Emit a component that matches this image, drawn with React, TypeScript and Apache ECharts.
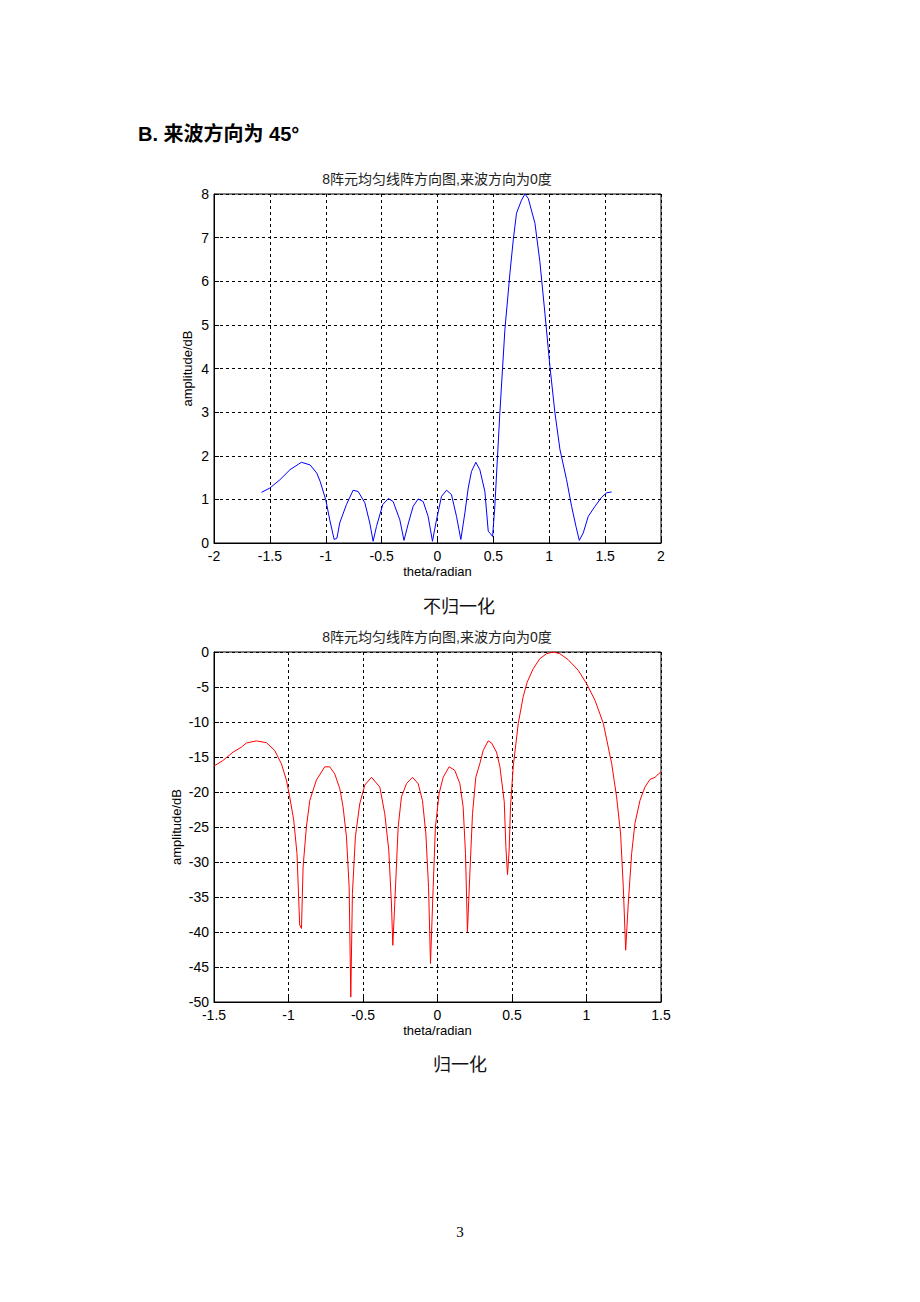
import React, { useEffect, useRef } from "react";
import * as echarts from "echarts";

// Top chart (不归一化): theta (rad) vs amplitude
const topTheta = [
  -1.576, -1.5, -1.41, -1.32, -1.218, -1.14, -1.08, -1.05, -1.0, -0.964, -0.925, -0.9, -0.875, -0.815, -0.755,
  -0.71, -0.65, -0.606, -0.576, -0.546, -0.49, -0.44, -0.397, -0.337, -0.3, -0.26, -0.218, -0.173, -0.128,
  -0.084, -0.045, -0.009, 0.036, 0.081, 0.125, 0.17, 0.209, 0.245, 0.275, 0.304, 0.343, 0.379, 0.424, 0.454,
  0.475, 0.493, 0.513, 0.558, 0.603, 0.648, 0.678, 0.707, 0.752, 0.782, 0.812, 0.872, 0.916, 0.961, 1.006,
  1.051, 1.096, 1.155, 1.2, 1.239, 1.269, 1.304, 1.349, 1.409, 1.469, 1.513, 1.558,
];
const topAmp = [
  1.16, 1.26, 1.45, 1.68, 1.85, 1.79, 1.6, 1.41, 0.99, 0.53, 0.08, 0.11, 0.46, 0.88, 1.21,
  1.18, 0.92, 0.46, 0.04, 0.38, 0.88, 1.02, 0.95, 0.53, 0.06, 0.46, 0.84, 1.01, 0.95,
  0.61, 0.04, 0.53, 1.07, 1.21, 1.11, 0.61, 0.08, 0.69, 1.26, 1.64, 1.85, 1.68, 1.18, 0.27,
  0.21, 0.15, 0.84, 2.98, 4.89, 6.18, 6.95, 7.56, 7.86, 8.0, 7.9, 7.33, 6.45, 5.27, 4.05,
  2.98, 2.14, 1.45, 0.84, 0.38, 0.06, 0.23, 0.61, 0.84, 1.05, 1.15, 1.17,
];

// Bottom chart (归一化): theta (rad) vs normalized amplitude (dB)
const botTheta = [
  -1.5, -1.44, -1.372, -1.316, -1.283, -1.216, -1.149, -1.093, -1.048, -1.014, -0.992, -0.965, -0.943, -0.925,
  -0.913, -0.902, -0.88, -0.857, -0.813, -0.757, -0.723, -0.69, -0.656, -0.634, -0.611, -0.593, -0.582, -0.571,
  -0.551, -0.522, -0.488, -0.443, -0.387, -0.354, -0.327, -0.309, -0.3, -0.287, -0.264, -0.242, -0.208, -0.168,
  -0.13, -0.101, -0.078, -0.06, -0.047, -0.029, -0.014, 0.011, 0.038, 0.078, 0.116, 0.15, 0.172, 0.188, 0.201,
  0.217, 0.235, 0.257, 0.284, 0.307, 0.34, 0.363, 0.396, 0.419, 0.448, 0.459, 0.47, 0.481, 0.49, 0.508, 0.542,
  0.575, 0.602, 0.642, 0.687, 0.732, 0.777, 0.821, 0.877, 0.944, 1.0, 1.057, 1.113, 1.169, 1.202, 1.229, 1.247,
  1.263, 1.28, 1.303, 1.325, 1.359, 1.392, 1.426, 1.46, 1.5,
];
const botAmp = [
  -16.3, -15.5, -14.3, -13.6, -13.0, -12.7, -12.95, -14.05, -15.95, -18.3, -20.7, -24.0, -28.8, -39.0,
  -39.5, -30.7, -25.0, -21.2, -18.3, -16.4, -16.4, -17.4, -19.5, -22.1, -26.4, -33.6, -49.3, -34.5,
  -26.4, -21.7, -19.0, -17.9, -19.3, -23.1, -28.3, -36.0, -41.9, -36.0, -25.0, -20.7, -18.8, -17.9,
  -18.8, -21.2, -26.0, -33.6, -44.5, -33.6, -25.0, -20.2, -17.9, -16.4, -16.9, -18.8, -22.1, -28.8, -40.0,
  -31.7, -23.1, -17.9, -15.95, -14.05, -12.7, -13.0, -14.3, -16.4, -21.4, -27.9, -31.8, -28.3, -22.1, -16.4, -10.2,
  -6.4, -4.3, -2.4, -0.95, -0.24, 0, -0.24, -1.1, -2.6, -4.5, -6.9, -10.2, -15.95, -20.7, -26.0, -33.6,
  -42.6, -36.0, -28.8, -24.5, -21.2, -19.3, -18.2, -17.9, -17.1,
];

const chartTitle = "8阵元均匀线阵方向图,来波方向为0度";
const headerText = "B. 来波方向为 45°";
const caption1 = "不归一化";
const caption2 = "归一化";
const pageNo = "3";

const FONT = "Liberation Sans, Arial, Noto Sans CJK SC, sans-serif";

function pairs(xs: number[], ys: number[]) {
  return xs.map((x, i) => [x, ys[i]]);
}

function xAxisCfg(gridIndex: number, min: number, max: number) {
  return {
    type: "value",
    gridIndex,
    min,
    max,
    interval: 0.5,
    name: "theta/radian",
    nameLocation: "middle",
    nameGap: 22,
    nameTextStyle: { color: "#000", fontSize: 13, fontFamily: FONT },
    axisLine: { show: true, onZero: false, lineStyle: { color: "#000", width: 1 } },
    axisTick: { show: true, inside: true, length: 5, lineStyle: { color: "#000" } },
    axisLabel: { color: "#000", fontSize: 14, fontFamily: FONT, margin: 6 },
    splitLine: { show: true, lineStyle: { color: "#000", type: [3, 3], width: 1 } },
  };
}

function yAxisCfg(gridIndex: number, min: number, max: number, interval: number, gap: number) {
  return {
    type: "value",
    gridIndex,
    min,
    max,
    interval,
    name: "amplitude/dB",
    nameLocation: "middle",
    nameGap: gap,
    nameRotate: 90,
    nameTextStyle: { color: "#000", fontSize: 13, fontFamily: FONT },
    axisLine: { show: true, onZero: false, lineStyle: { color: "#000", width: 1 } },
    axisTick: { show: true, inside: true, length: 5, lineStyle: { color: "#000" } },
    axisLabel: { color: "#000", fontSize: 14, fontFamily: FONT, margin: 5 },
    splitLine: { show: true, lineStyle: { color: "#000", type: [3, 3], width: 1 } },
  };
}

export default function App() {
  const ref = useRef<HTMLDivElement>(null);
  useEffect(() => {
    if (!ref.current) return;
    const chart = echarts.init(ref.current, undefined, { renderer: "svg" });
    chart.setOption({
      animation: false,
      backgroundColor: "#fff",
      grid: [
        { left: 214, top: 194, width: 447, height: 349, show: true, borderColor: "#000", borderWidth: 1, backgroundColor: "transparent" },
        { left: 214, top: 652, width: 447, height: 350, show: true, borderColor: "#000", borderWidth: 1, backgroundColor: "transparent" },
      ],
      xAxis: [xAxisCfg(0, -2, 2), xAxisCfg(1, -1.5, 1.5)],
      yAxis: [yAxisCfg(0, 0, 8, 1, 20), yAxisCfg(1, -50, 0, 5, 31)],
      series: [
        {
          type: "line",
          xAxisIndex: 0,
          yAxisIndex: 0,
          data: pairs(topTheta, topAmp),
          showSymbol: false,
          symbol: "none",
          lineStyle: { color: "#0000ff", width: 1 },
          clip: true,
        },
        {
          type: "line",
          xAxisIndex: 1,
          yAxisIndex: 1,
          data: pairs(botTheta, botAmp),
          showSymbol: false,
          symbol: "none",
          lineStyle: { color: "#ff0000", width: 1 },
          clip: true,
        },
      ],
      graphic: [
        {
          type: "text",
          left: 138,
          top: 124,
          style: { text: headerText, fontSize: 20, fontWeight: "bold", fontFamily: FONT, fill: "#000" },
        },
        {
          type: "text",
          x: 437,
          y: 179,
          style: { text: chartTitle, fontSize: 14, fontFamily: FONT, fill: "#222", align: "center", verticalAlign: "middle" },
        },
        {
          type: "text",
          x: 437,
          y: 637,
          style: { text: chartTitle, fontSize: 14, fontFamily: FONT, fill: "#222", align: "center", verticalAlign: "middle" },
        },
        {
          type: "text",
          x: 459,
          y: 605,
          style: { text: caption1, fontSize: 18, fontFamily: "Noto Sans CJK SC, serif", fill: "#111", align: "center", verticalAlign: "middle" },
        },
        {
          type: "text",
          x: 460,
          y: 1063,
          style: { text: caption2, fontSize: 18, fontFamily: "Noto Sans CJK SC, serif", fill: "#111", align: "center", verticalAlign: "middle" },
        },
        {
          type: "text",
          x: 460,
          y: 1232,
          style: { text: pageNo, fontSize: 15, fontFamily: "Liberation Serif, serif", fill: "#000", align: "center", verticalAlign: "middle" },
        },
      ],
    });
    return () => chart.dispose();
  }, []);
  return (
    <div
      ref={ref}
      style={{ position: "absolute", left: 0, top: 0, width: 920, height: 1302, background: "#fff" }}
    />
  );
}
